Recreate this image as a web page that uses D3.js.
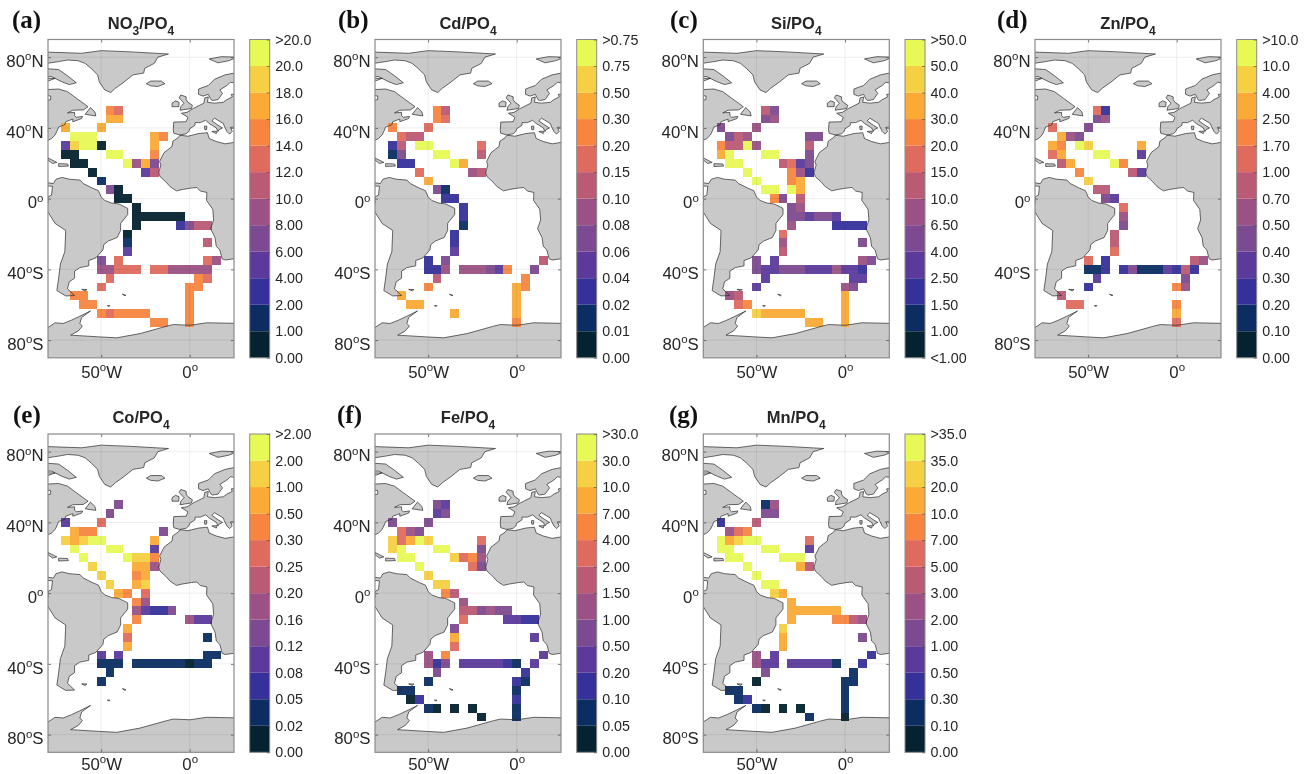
<!DOCTYPE html>
<html>
<head>
<meta charset="utf-8">
<script src="https://cdnjs.cloudflare.com/ajax/libs/d3/7.8.5/d3.min.js"></script>
<style>
  body { margin: 0; background: #fff; }
  /* the source figure is a slightly soft raster */
  svg { display: block; filter: blur(0.35px); }
  text { font-family: "Liberation Sans", sans-serif; fill: #262626; }
</style>
</head>
<body>
<div id="chart"></div>
<script>
// colour classes, dark to light, shared by all panels
const classColors = ["#04222f", "#0b2d62", "#35309a", "#5c3a9c", "#7c4a90", "#9b5184",
  "#bb5a75", "#df6a5e", "#f7853f", "#fbaa36", "#f5d042", "#e6f955"];

// colorbar labels, bottom to top
const no3Labels = ["0.00", "1.00", "2.00", "4.00", "6.00", "8.00", "10.0", "12.0", "14.0", "16.0", "18.0", "20.0", ">20.0"];
const cdLabels = ["0.00", "0.01", "0.02", "0.04", "0.06", "0.08", "0.10", "0.15", "0.20", "0.30", "0.50", "0.75", ">0.75"];
const siLabels = ["<1.00", "1.00", "1.50", "2.50", "4.00", "6.50", "10.0", "15.0", "20.0", "30.0", "40.0", "50.0", ">50.0"];
const znLabels = ["0.00", "0.10", "0.20", "0.30", "0.40", "0.50", "0.70", "1.00", "1.70", "2.50", "4.00", "10.0", ">10.0"];
const coLabels = ["0.00", "0.02", "0.05", "0.08", "0.12", "0.16", "0.20", "0.25", "0.30", "0.50", "1.00", "2.00", ">2.00"];
const feLabels = ["0.00", "0.05", "0.10", "0.20", "0.50", "1.00", "1.50", "2.00", "4.00", "7.00", "10.0", "30.0", ">30.0"];
const mnLabels = ["0.00", "0.10", "0.30", "0.50", "1.00", "2.00", "3.00", "5.00", "7.00", "10.0", "20.0", "35.0", ">35.0"];

// grid cells: [lon, lat, colour class]
const no3Cells = [
  [-45,50,8],[-40,50,7],[-45,45,9],[-40,45,9],[-70,40,9],[-50,40,9],
  [-65,35,11],[-60,35,11],[-55,35,11],[-20,35,9],[-15,35,8],
  [-70,30,3],[-65,30,10],[-60,30,11],[-55,30,11],[-50,30,0],[-20,30,9],
  [-70,25,0],[-65,25,0],[-45,25,11],[-40,25,11],[-20,25,8],
  [-65,20,0],[-60,20,0],[-35,20,11],[-30,20,5],[-25,20,9],[-20,20,4],
  [-55,15,0],[-25,15,3],[-20,15,6],[-50,10,1],[-45,5,4],[-40,5,0],[-40,0,0],[-35,0,0],
  [-30,-5,0],[-30,-10,0],[-25,-10,0],[-20,-10,0],[-15,-10,0],[-10,-10,0],[-5,-10,0],
  [-30,-15,0],[-5,-15,2],[0,-15,4],[5,-15,6],[10,-15,6],
  [-35,-20,0],[-35,-25,1],[10,-25,6],[-35,-30,3],
  [-50,-35,4],[-40,-35,7],[10,-35,7],[15,-35,5],
  [-50,-40,5],[-45,-40,5],[-40,-40,7],[-35,-40,7],[-30,-40,7],[-20,-40,7],[-15,-40,7],
  [-10,-40,5],[-5,-40,5],[0,-40,5],[5,-40,5],[10,-40,5],
  [-45,-45,7],[5,-45,8],[10,-45,7],[-50,-50,7],[0,-50,8],[5,-50,8],
  [-65,-55,8],[-60,-55,8],[0,-55,8],[-60,-60,8],[-55,-60,8],[0,-60,8],
  [-50,-65,8],[-45,-65,7],[-40,-65,8],[-35,-65,8],[-30,-65,8],[-25,-65,8],[0,-65,8],
  [-20,-70,8],[-15,-70,8],[0,-70,8]
];
const cdCells = [
  [-45,50,8],[-40,50,6],[-45,45,8],[-40,45,7],[-70,40,8],[-50,40,7],
  [-65,35,7],[-60,35,6],[-55,35,6],
  [-70,30,2],[-65,30,6],[-55,30,11],[-50,30,11],[-20,30,7],
  [-70,25,1],[-65,25,4],[-45,25,11],[-40,25,11],[-20,25,6],
  [-65,20,2],[-60,20,2],[-35,20,11],[-30,20,9],
  [-55,15,7],[-25,15,5],[-20,15,6],[-50,10,9],[-45,5,4],[-40,5,1],[-40,0,2],[-35,0,2],
  [-30,-5,2],[-30,-10,2],[-30,-15,1],[-35,-20,2],[-35,-25,2],[-35,-30,3],
  [-50,-35,2],[-40,-35,4],[15,-35,6],
  [-50,-40,2],[-45,-40,2],[-40,-40,5],[-30,-40,5],[-25,-40,5],[-20,-40,5],[-15,-40,4],[-10,-40,3],[-5,-40,8],[10,-40,4],
  [-45,-45,6],[5,-45,8],[-50,-50,8],[0,-50,9],[5,-50,8],
  [-65,-55,9],[0,-55,9],[-60,-60,9],[-55,-60,9],[0,-60,9],[-35,-65,9],[0,-65,9],[0,-70,8]
];
const siCells = [
  [-45,50,6],[-40,50,4],[-45,45,4],[-40,45,5],[-70,40,4],[-50,40,5],
  [-65,35,4],[-60,35,6],[-55,35,5],[-20,35,4],[-15,35,4],
  [-70,30,8],[-65,30,6],[-60,30,6],[-55,30,11],[-50,30,5],[-20,30,6],
  [-70,25,9],[-65,25,11],[-45,25,11],[-40,25,11],[-20,25,4],
  [-65,20,11],[-60,20,11],[-35,20,6],[-30,20,7],[-25,20,3],[-20,20,4],
  [-55,15,11],[-30,15,8],[-25,15,5],[-20,15,2],[-50,10,11],[-30,10,8],[-25,10,9],
  [-45,5,11],[-40,5,11],[-30,5,11],[-25,5,9],[-40,0,8],[-35,0,4],[-25,0,6],
  [-30,-5,4],[-25,-5,5],
  [-30,-10,4],[-25,-10,4],[-20,-10,3],[-15,-10,4],[-10,-10,4],[-5,-10,3],
  [-30,-15,5],[-5,-15,2],[0,-15,2],[5,-15,2],[10,-15,2],
  [-35,-20,7],[-35,-25,5],[10,-25,4],[-35,-30,6],
  [-50,-35,4],[-40,-35,3],[10,-35,5],[15,-35,4],
  [-50,-40,4],[-45,-40,3],[-40,-40,3],[-35,-40,4],[-30,-40,4],[-25,-40,4],[-20,-40,3],[-15,-40,3],[-10,-40,3],
  [-5,-40,5],[0,-40,3],[5,-40,3],[10,-40,2],
  [-45,-45,3],[5,-45,3],[10,-45,3],[-50,-50,3],[0,-50,5],[5,-50,4],
  [-65,-55,5],[-60,-55,6],[0,-55,9],[-60,-60,7],[-55,-60,8],[0,-60,9],
  [-50,-65,10],[-45,-65,9],[-40,-65,9],[-35,-65,9],[-30,-65,9],[-25,-65,9],[0,-65,9],
  [-20,-70,9],[-15,-70,9],[0,-70,9]
];
const znCells = [
  [-45,50,7],[-40,50,2],[-45,45,4],[-40,45,5],[-70,40,7],[-50,40,4],
  [-65,35,9],[-60,35,5],[-55,35,4],
  [-70,30,9],[-65,30,8],[-55,30,11],[-50,30,10],[-20,30,9],
  [-70,25,7],[-65,25,9],[-45,25,11],[-40,25,11],[-20,25,3],
  [-65,20,6],[-60,20,9],[-35,20,11],[-30,20,8],
  [-55,15,8],[-25,15,6],[-20,15,3],[-50,10,10],[-45,5,6],[-40,5,6],[-40,0,4],[-35,0,3],
  [-30,-5,7],[-30,-10,5],[-30,-15,4],[-35,-20,6],[-35,-25,6],[-35,-30,7],
  [-50,-35,7],[-40,-35,2],[10,-35,6],[15,-35,5],
  [-50,-40,1],[-45,-40,1],[-40,-40,2],[-30,-40,2],[-25,-40,4],[-20,-40,1],[-15,-40,1],[-10,-40,1],
  [-5,-40,3],[0,-40,2],[5,-40,6],[10,-40,2],
  [-45,-45,3],[5,-45,4],[-50,-50,2],[0,-50,8],[5,-50,5],
  [-65,-55,6],[-60,-60,7],[-55,-60,7],[0,-60,8],[0,-65,9],[0,-70,7]
];
const coCells = [
  [-40,50,4],[-45,45,4],[-70,40,3],[-50,40,7],
  [-65,35,9],[-60,35,8],[-55,35,8],[-15,35,4],
  [-70,30,10],[-65,30,9],[-60,30,10],[-55,30,11],[-50,30,11],[-20,30,9],
  [-65,25,11],[-45,25,11],[-40,25,11],[-20,25,3],
  [-60,20,11],[-35,20,11],[-30,20,10],[-25,20,10],[-20,20,8],
  [-55,15,10],[-30,15,9],[-25,15,9],[-20,15,5],
  [-50,10,10],[-30,10,8],[-25,10,9],[-45,5,10],[-30,5,9],[-25,5,10],
  [-40,0,9],[-35,0,8],[-25,0,7],[-30,-5,8],[-25,-5,5],
  [-30,-10,5],[-25,-10,3],[-20,-10,2],[-15,-10,2],[-10,-10,4],
  [-30,-15,8],[0,-15,5],[5,-15,3],[10,-15,3],
  [-35,-20,9],[-35,-25,7],[10,-25,1],[-35,-30,9],
  [-50,-35,3],[-40,-35,3],[10,-35,1],[15,-35,1],
  [-50,-40,1],[-45,-40,1],[-40,-40,1],[-30,-40,1],[-25,-40,1],[-20,-40,1],[-15,-40,1],[-10,-40,1],[-5,-40,1],
  [0,-40,0],[5,-40,1],[10,-40,1],[-45,-45,1],[-50,-50,1]
];
const feCells = [
  [-45,50,4],[-40,50,3],[-45,45,3],[-40,45,4],[-70,40,4],[-50,40,4],
  [-65,35,7],[-60,35,5],[-55,35,4],
  [-70,30,10],[-65,30,7],[-60,30,9],[-55,30,11],[-50,30,10],[-20,30,7],
  [-70,25,10],[-65,25,11],[-45,25,11],[-40,25,11],[-20,25,4],
  [-65,20,11],[-60,20,11],[-35,20,10],[-30,20,7],[-25,20,8],[-20,20,5],
  [-55,15,11],[-25,15,7],[-20,15,4],[-50,10,10],[-45,5,10],[-40,5,10],[-40,0,8],[-35,0,6],
  [-30,-5,5],[-30,-10,6],[-25,-10,6],[-20,-10,4],[-15,-10,5],[-10,-10,4],[-5,-10,4],
  [-30,-15,7],[-5,-15,3],[0,-15,3],[5,-15,2],[10,-15,2],
  [-35,-20,4],[-35,-25,9],[10,-25,3],[-35,-30,7],
  [-50,-35,5],[-40,-35,8],[15,-35,3],
  [-50,-40,5],[-45,-40,2],[-40,-40,4],[-30,-40,3],[-25,-40,3],[-20,-40,3],[-15,-40,3],[-10,-40,3],
  [-5,-40,2],[0,-40,1],[10,-40,3],
  [-45,-45,4],[5,-45,2],[-50,-50,1],[0,-50,2],[5,-50,1],
  [-65,-55,1],[-60,-55,1],[0,-55,1],[-60,-60,0],[-55,-60,2],[0,-60,2],
  [-50,-65,1],[-45,-65,0],[-35,-65,0],[-25,-65,0],[0,-65,1],[-20,-70,0],[0,-70,1]
];
const mnCells = [
  [-45,50,1],[-40,50,5],[-45,45,4],[-40,45,4],[-70,40,2],[-50,40,6],
  [-65,35,5],[-60,35,7],[-55,35,8],
  [-70,30,11],[-65,30,9],[-60,30,10],[-55,30,11],[-50,30,11],[-20,30,7],
  [-70,25,11],[-65,25,11],[-45,25,11],[-40,25,11],[-20,25,3],
  [-65,20,11],[-60,20,11],[-35,20,11],[-30,20,11],[-25,20,11],
  [-55,15,11],[-25,15,9],[-20,15,6],[-50,10,11],[-45,5,11],[-40,5,11],[-40,0,10],[-35,0,9],
  [-30,-5,9],[-30,-10,9],[-25,-10,9],[-20,-10,9],[-15,-10,9],[-10,-10,9],[-5,-10,9],
  [-30,-15,9],[-5,-15,8],[0,-15,8],[5,-15,6],[10,-15,5],
  [-35,-20,10],[-35,-25,9],[10,-25,4],[-35,-30,9],
  [-50,-35,5],[-40,-35,3],[15,-35,2],
  [-50,-40,5],[-45,-40,3],[-40,-40,3],[-30,-40,3],[-25,-40,3],[-20,-40,3],[-15,-40,3],[-10,-40,3],[-5,-40,1],[10,-40,2],
  [-45,-45,4],[5,-45,1],[-50,-50,0],[0,-50,1],[5,-50,1],
  [-65,-55,1],[-60,-55,1],[0,-55,1],[-60,-60,1],[-55,-60,2],[0,-60,1],
  [-50,-65,1],[-45,-65,0],[-35,-65,0],[-25,-65,0],[0,-65,1],[-20,-70,1],[0,-70,0]
];

// coastlines as [lon, lat] rings
const greenland = [[-84,83],[-61,82.2],[-50,83.7],[-33,83],[-12,81.8],[-18,80],[-20,76.5],[-25.4,73.7],[-26,71],[-32,70],[-37,66],[-42,62.4],[-44.6,60],[-48,61.5],[-51,66],[-52,70],[-55.5,73.5],[-59,76.5],[-63,78],[-69,78.4],[-74,77.5],[-84,76]];
const baffin = [[-84,73.7],[-74,73],[-69,69.5],[-64,65.5],[-68,64.5],[-72,66],[-78,69],[-84,69]];
const devon = [[-84,76],[-80,75.3],[-84,74.6]];
const melville = [[-84,68],[-76,68],[-84,65]];
const quebec = [[-84,55],[-78.5,56],[-78.5,58],[-84,59],[-84,61.5],[-74,62],[-69,60.5],[-64,56.8],[-57.4,52],[-60,50.2],[-66,50],[-69,48.5],[-65,48.8],[-65,47],[-64,46],[-60.5,46.5],[-61,45.3],[-66,43.5],[-66,45],[-70,43.5],[-70.5,41.8],[-74,40.5],[-75,38],[-76,36],[-78,34],[-80,33],[-84,32]];
const newfoundland = [[-59,47.7],[-53,46.8],[-53.5,49],[-56,51.5]];
const southAmerica = [[-80,9],[-77,8.5],[-75.5,11],[-72,12],[-68,11],[-62,10.5],[-60,8.5],[-55,6],[-51.5,4.5],[-50,1],[-48,-1],[-44,-2.5],[-40,-3],[-35,-5.5],[-35,-9],[-39,-14],[-39,-18],[-41,-22],[-46,-24],[-48.5,-26],[-49,-29],[-53,-33.5],[-57,-35],[-57,-38],[-62,-39],[-65,-41],[-65,-45],[-68,-47],[-69,-51],[-65,-54.8],[-70,-55],[-75,-52],[-74,-45],[-73,-37],[-70.5,-30],[-70,-18],[-76,-14],[-81,-6],[-80,-2],[-80,1],[-78,2],[-77.5,7],[-84,7.5]];
const africa = [[-5.5,35.9],[-1,35.3],[5,36.8],[10,37.3],[11,34],[15,32.3],[20,31],[25,31.8],[30,31],[30,-34],[25,-34],[20,-34.7],[18.3,-34],[17,-29],[15,-27],[14.3,-22],[11.8,-17],[13.5,-12],[13,-6],[9.5,-1],[9.7,3.5],[6,4.3],[4,6.3],[1,6],[-4,5.2],[-7.5,4.4],[-11,6.7],[-13.5,9.5],[-16.8,12.5],[-17.5,14.7],[-16.3,19],[-17,21],[-14.5,26],[-10,29.5],[-9.5,32.5],[-6.5,34.5]];
const europe = [[-5.5,36],[-9,37],[-9.3,39],[-9,43.3],[-2,43.5],[-1,46],[-4.7,48.3],[-1.5,48.8],[2,51],[4,52],[8,54],[8.5,57],[10.5,57.5],[10,54.5],[14,54],[19,54.5],[21,56],[24,57.5],[23.5,59],[30,59.5],[30,40.8],[23,40.3],[24,38],[22.5,36.5],[21,38],[19.5,41],[19,42.5],[14,45.5],[12.5,44],[16,41.5],[18.5,40],[16.5,39],[16,38],[15,40],[11,42.5],[9,44.3],[6,43],[3,43],[3,41.5],[0,39.5],[-0.5,38],[-2,36.7]];
const scandinavia = [[30,71],[25,71],[20,70],[14,67.5],[10.5,64],[5,62],[5,59],[7.5,58],[10.5,59],[12,56],[13,55.5],[16,56],[18.5,59.5],[17,61.5],[21,64],[23,65.8],[25,65.5],[30,65.5]];
const britain = [[-5.5,50],[1,51],[1.5,52.8],[-1,54.5],[-2,56],[-2,57.6],[-5,58.6],[-6,57],[-3.2,54],[-5,52]];
const ireland = [[-10,52],[-6.2,52],[-6,54.5],[-8,55.3],[-10,54]];
const iceland = [[-24.5,65],[-22,63.8],[-18,63.4],[-14,65],[-16,66.5],[-22,66.5]];
const svalbard = [[11,79],[16,76.8],[22,78],[27,80],[18,80.3]];
const cuba = [[-80,23],[-75,20.5],[-77.5,19.9],[-80,21.8]];
const hispaniola = [[-74,19.8],[-69,19.6],[-68.5,18.4],[-74,18.2]];
const sicily = [[12.5,38],[15.5,38.2],[15,36.8]];
const sardinia = [[8.3,41],[9.7,41],[9.5,39],[8.5,39]];
const falklands = [[-61,-51.3],[-58,-51.4],[-59,-52.2]];
const southGeorgia = [[-38,-54],[-36,-54.6],[-36.5,-55]];
const southOrkney = [[-46.5,-60.5],[-45,-60.5],[-45.5,-61]];
const antarctica = [[-85,-73],[-80,-72.9],[-76,-70.2],[-71.4,-70.6],[-66.7,-68.7],[-62,-66.5],[-56,-63.5],[-61,-67.2],[-62,-70.6],[-60.6,-72.1],[-62.9,-74.8],[-67.2,-77.2],[-50.7,-78.2],[-41.2,-78.7],[-28,-76.3],[-13,-72.1],[-9.2,-71.2],[0.2,-71.6],[9.6,-70.2],[30,-70.6],[30,-95],[-85,-95]];
const landRings = [greenland, baffin, devon, melville, quebec, newfoundland, southAmerica, africa, europe, scandinavia, britain, ireland, iceland, svalbard, cuba, hispaniola, sicily, sardinia, falklands, southGeorgia, southOrkney, antarctica];

const lonTicks = [-50, 0];
const latTicks = [80, 40, 0, -40, -80];

const panels = [
  { letter: "(a)", head: "NO", sub: "3", cells: no3Cells, labels: no3Labels, x: 48, y: 39.5, letterX: 12 },
  { letter: "(b)", head: "Cd", sub: "", cells: cdCells, labels: cdLabels, x: 375, y: 39.5, letterX: 338 },
  { letter: "(c)", head: "Si", sub: "", cells: siCells, labels: siLabels, x: 703.3, y: 39.5, letterX: 670 },
  { letter: "(d)", head: "Zn", sub: "", cells: znCells, labels: znLabels, x: 1035, y: 39.5, letterX: 997 },
  { letter: "(e)", head: "Co", sub: "", cells: coCells, labels: coLabels, x: 48, y: 434, letterX: 13 },
  { letter: "(f)", head: "Fe", sub: "", cells: feCells, labels: feLabels, x: 375, y: 434, letterX: 337 },
  { letter: "(g)", head: "Mn", sub: "", cells: mnCells, labels: mnLabels, x: 703.3, y: 434, letterX: 669 }
];

const width = 1307, height = 774;
const mapW = 186, mapH = 318.3, barGap = 15.7, barW = 20;

const svg = d3.select("#chart").append("svg").attr("width", width).attr("height", height);

const xScale = d3.scaleLinear().domain([-80, 25]).range([0, mapW]);
const yScale = d3.scaleLinear().domain([90, -90]).range([0, mapH]);
const barScale = d3.scaleLinear().domain([0, 12]).range([mapH, 0]);
const landLine = d3.line().x(d => xScale(d[0])).y(d => yScale(d[1])).curve(d3.curveLinearClosed);

svg.append("defs").append("clipPath").attr("id", "mapClip")
  .append("rect").attr("width", mapW).attr("height", mapH);

// 50°W style label: number, small raised o, optional hemisphere letter
function degLabel(sel, text) {
  sel.text(null);
  sel.append("tspan").text(text[0]);
  sel.append("tspan").attr("dy", -6.5).attr("font-size", 11.5).text("o");
  if (text[1]) sel.append("tspan").attr("dy", 6.5).text(text[1]);
}

const lonText = d => d === 0 ? ["0", ""] : [Math.abs(d), "W"];
const latText = d => d === 0 ? ["0", ""] : [Math.abs(d), d > 0 ? "N" : "S"];

panels.forEach(p => {
  const g = svg.append("g").attr("transform", `translate(${p.x},${p.y})`);

  // panel letter and title
  g.append("text").attr("x", p.letterX - p.x).attr("y", -11.5)
    .style("font-family", "'Liberation Serif', serif").style("font-weight", "bold")
    .attr("font-size", 25).style("fill", "#111").text(p.letter);

  const title = g.append("text").attr("x", mapW / 2).attr("y", -11)
    .attr("text-anchor", "middle").attr("font-size", 16.5).attr("font-weight", "bold");
  title.append("tspan").text(p.head);
  if (p.sub) title.append("tspan").attr("dy", 6).attr("font-size", 12).text(p.sub);
  title.append("tspan").attr("dy", p.sub ? -6 : 0).text("/PO");
  title.append("tspan").attr("dy", 6).attr("font-size", 12).text("4");

  const map = g.append("g").attr("clip-path", "url(#mapClip)");

  map.append("g").selectAll("path").data(landRings).join("path")
    .attr("d", landLine).attr("fill", "#c9c9c9");

  // crisp edges so neighbouring cells leave no seam
  map.append("g").attr("shape-rendering", "crispEdges").selectAll("rect").data(p.cells).join("rect")
    .attr("x", d => xScale(d[0] - 2.5))
    .attr("y", d => yScale(d[1] + 2.5))
    .attr("width", d => xScale(d[0] + 2.5) - xScale(d[0] - 2.5))
    .attr("height", d => yScale(d[1] - 2.5) - yScale(d[1] + 2.5))
    .attr("fill", d => classColors[d[2]])
    .attr("fill-opacity", 0.95);

  // coast drawn over the cells
  map.append("g").selectAll("path").data(landRings).join("path")
    .attr("d", landLine).attr("fill", "none").attr("stroke", "#2b2b2b").attr("stroke-width", 0.7);

  // faint grid
  map.append("g").selectAll("line").data(lonTicks).join("line")
    .attr("x1", d => xScale(d)).attr("x2", d => xScale(d)).attr("y2", mapH)
    .attr("stroke", "#000").attr("stroke-opacity", 0.07);
  map.append("g").selectAll("line").data(latTicks).join("line")
    .attr("y1", d => yScale(d)).attr("y2", d => yScale(d)).attr("x2", mapW)
    .attr("stroke", "#000").attr("stroke-opacity", 0.07);

  // axes, ticks point inward on all four sides
  const bottom = g.append("g").attr("transform", `translate(0,${mapH})`)
    .call(d3.axisBottom(xScale).tickValues(lonTicks).tickSize(-3).tickSizeOuter(0));
  const left = g.append("g").call(d3.axisLeft(yScale).tickValues(latTicks).tickSize(-3).tickSizeOuter(0));
  g.append("g").call(d3.axisTop(xScale).tickValues(lonTicks).tickSize(-3).tickSizeOuter(0).tickFormat(""));
  g.append("g").attr("transform", `translate(${mapW},0)`)
    .call(d3.axisRight(yScale).tickValues(latTicks).tickSize(-3).tickSizeOuter(0).tickFormat(""));

  // lower row sits close to the page edge
  bottom.selectAll("text").attr("y", p.y > 100 ? 17.5 : 20).attr("dy", 0).attr("font-size", 16.8)
    .style("font-family", "'Liberation Sans', sans-serif")
    .each(function (d) { degLabel(d3.select(this), lonText(d)); });
  left.selectAll("text").attr("x", -4.5).attr("dy", "0.55em").attr("font-size", 16.8)
    .style("font-family", "'Liberation Sans', sans-serif")
    .each(function (d) { degLabel(d3.select(this), latText(d)); });

  g.selectAll(".domain").attr("stroke", "none");
  g.selectAll(".tick line").attr("stroke", "#444").attr("stroke-width", 0.7);

  g.append("rect").attr("width", mapW).attr("height", mapH)
    .attr("fill", "none").attr("stroke", "#8a8a8a").attr("stroke-width", 1.2);

  // colorbar
  const bar = g.append("g").attr("transform", `translate(${mapW + barGap},0)`);
  bar.selectAll("rect").data(classColors).join("rect")
    .attr("y", (d, i) => barScale(i + 1))
    .attr("width", barW)
    .attr("height", (d, i) => barScale(i) - barScale(i + 1))
    .attr("fill", d => d);
  bar.append("rect").attr("width", barW).attr("height", mapH)
    .attr("fill", "none").attr("stroke", "#8a8a8a").attr("stroke-width", 1);

  const barAxis = bar.append("g").attr("transform", `translate(${barW},0)`)
    .call(d3.axisRight(barScale).tickValues(d3.range(13)).tickSize(-3).tickSizeOuter(0)
      .tickPadding(5.5).tickFormat(i => p.labels[i]));
  barAxis.select(".domain").attr("stroke", "none");
  barAxis.selectAll(".tick line").attr("stroke", "#444").attr("stroke-width", 0.6);
  barAxis.selectAll("text").attr("font-size", 14.3)
    .style("font-family", "'Liberation Sans', sans-serif");
});
</script>
</body>
</html>
